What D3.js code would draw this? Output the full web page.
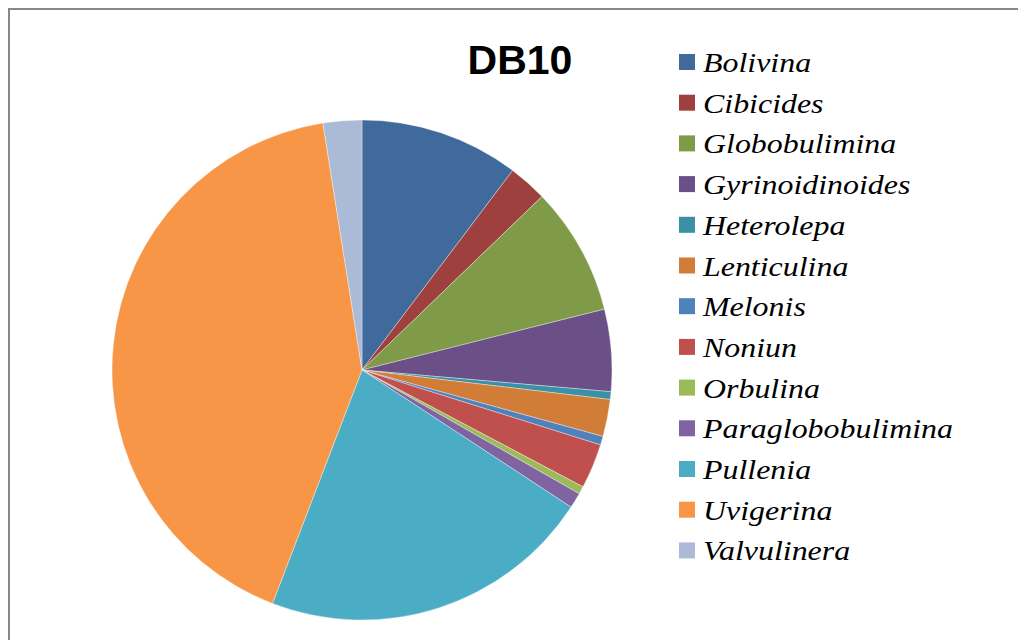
<!DOCTYPE html>
<html><head><meta charset="utf-8">
<script src="https://cdn.jsdelivr.net/npm/d3@7/dist/d3.min.js"></script>
<style>body{margin:0;background:#fff}svg{display:block}</style>
</head><body>
<svg id="c" width="1018" height="640"></svg>
<script>
const title = "DB10";
const categories = ["Bolivina","Cibicides","Globobulimina","Gyrinoidinoides","Heterolepa","Lenticulina","Melonis","Noniun","Orbulina","Paraglobobulimina","Pullenia","Uvigerina","Valvulinera"];
const values = [10.3, 2.5, 8.3, 5.3, 0.5, 2.4, 0.56, 2.9, 0.5, 1.0, 21.6, 41.7, 2.5];
const colors = ["#3F6A9B","#9E413E","#7F9B48","#6A5087","#3A91A6","#D17D38","#4F81BD","#C0504D","#9BBB59","#8064A2","#4BACC6","#F79646","#AABAD7"];

const svg = d3.select("#c");
svg.append("rect").attr("x",9).attr("y",9).attr("width",1200).attr("height",1000)
  .attr("fill","none").attr("stroke","#878787").attr("stroke-width",2);

const cx = 362, cy = 370, r = 250;
const pie = d3.pie().sort(null).value(d => d.v);
const arc = d3.arc().innerRadius(0).outerRadius(r);
const data = categories.map((c,i) => ({c, v: values[i], col: colors[i]}));
const g = svg.append("g").attr("transform", `translate(${cx},${cy})`);
g.selectAll("path").data(pie(data)).join("path")
  .attr("d", arc).attr("fill", d => d.data.col)
  .attr("stroke", "#ffffff").attr("stroke-width", 0.6).attr("stroke-opacity", 0.6);

svg.append("text").attr("x", 520).attr("y", 74).attr("text-anchor","middle")
  .attr("font-family","'Liberation Sans', Arial, sans-serif").attr("font-weight","bold").attr("font-size",41)
  .attr("fill","#000").text(title);

const lg = svg.append("g");
const y0 = 54, step = 40.7;
const rows = lg.selectAll("g").data(data).join("g")
  .attr("transform", (d,i) => `translate(679,${y0 + i*step})`);
rows.append("rect").attr("width",16).attr("height",16).attr("fill", d => d.col);
rows.append("text").attr("transform","translate(24,18) scale(1.14,1)")
  .attr("font-family","'Liberation Serif', 'Times New Roman', serif").attr("font-style","italic").attr("font-size",28)
  .attr("fill","#000").text(d => d.c);
</script>
</body></html>
